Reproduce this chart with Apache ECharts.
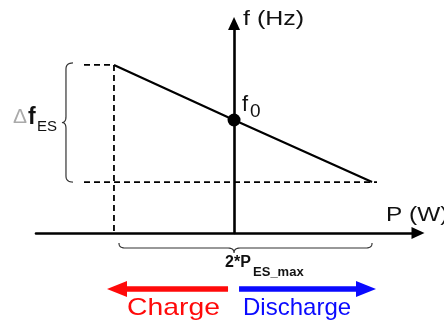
<!DOCTYPE html>
<html><head><meta charset="utf-8">
<script src="https://cdn.jsdelivr.net/npm/echarts@6/dist/echarts.min.js"></script>
<style>html,body{margin:0;padding:0;background:#fff}#c{width:444px;height:325px}</style>
</head><body><div id="c"></div>
<script>
// ---- Data (P normalised to discharge limit, f normalised to f0) ----
const droopP = [-0.87, 0, 1.0];
const droopF = [1.487, 1.0, 0.451];
const f0P = [0];
const f0F = [1.0];
const guideTopP = [-1.087, -0.87, -0.87];
const guideTopF = [1.487, 1.487, 0];
const guideBottomP = [-1.087, 1.036];
const guideBottomF = [0.451, 0.451];
const xRange = [-1.435, 1.333];
const yRange = [0, 1.854];
const axisTitles = ['P (W)', 'f (Hz)'];
const deltaLabel = ['\u0394', 'f', 'ES'];
const f0Label = ['f', '0'];
const spanLabel = ['2*P', 'ES_max'];
const directionLabels = ['Charge', 'Discharge'];

const zip = (a, b) => a.map((v, i) => [v, b[i]]);
const FONT = '"Liberation Sans", Arial, sans-serif';

const chart = echarts.init(document.getElementById('c'), null, {renderer: 'canvas'});
const axisCommon = {
  type: 'value', axisTick: {show: false}, axisLabel: {show: false}, splitLine: {show: false},
  axisLine: {show: true, onZero: true, symbol: ['none', 'triangle'], symbolSize: [12, 13],
    lineStyle: {color: '#000', width: 2.6}}
};
chart.setOption({
  animation: false,
  grid: {left: 36, right: 26, top: 23.5, bottom: 92},
  xAxis: Object.assign({}, axisCommon, {min: xRange[0], max: xRange[1]}),
  yAxis: Object.assign({}, axisCommon, {min: yRange[0], max: yRange[1]}),
  series: [
    {type: 'line', data: zip(guideTopP, guideTopF), symbol: 'none', silent: true,
      lineStyle: {color: '#000', width: 1.8, type: [6, 4]}},
    {type: 'line', data: zip(guideBottomP, guideBottomF), symbol: 'none', silent: true,
      lineStyle: {color: '#000', width: 1.8, type: [6, 4]}},
    {type: 'line', data: zip(droopP, droopF), symbol: 'none', silent: true,
      lineStyle: {color: '#000', width: 2.2}},
    {type: 'scatter', data: zip(f0P, f0F), symbolSize: 13, silent: true,
      itemStyle: {color: '#000', opacity: 1}}
  ]
});

const px = (p, f) => chart.convertToPixel({gridIndex: 0}, [p, f]);
const O = px(0, 0);
const F0 = px(f0P[0], f0F[0]);
const TOP = px(droopP[0], droopF[0]);
const BOT = px(droopP[2], droopF[2]);
const xEnd = px(xRange[1], 0);
const yEnd = px(0, yRange[1]);

// sample a chain of segments: 'L' lines and 'Q' quadratic curves into polyline points
function sample(start, segs) {
  const pts = [start];
  let cur = start;
  segs.forEach(s => {
    if (s.length === 1) { pts.push(s[0]); cur = s[0]; }
    else {
      const c = s[0], e = s[1];
      for (let i = 1; i <= 8; i++) {
        const t = i / 8, u = 1 - t;
        pts.push([u*u*cur[0] + 2*u*t*c[0] + t*t*e[0], u*u*cur[1] + 2*u*t*c[1] + t*t*e[1]]);
      }
      cur = e;
    }
  });
  return pts;
}
function vBrace(x, y1, y2, e, t) {
  const ym = (y1 + y2) / 2, r = 6;
  return sample([x+e, y1], [
    [[x, y1], [x, y1+r]], [[x, ym-r]], [[x, ym], [x-t, ym]],
    [[x, ym], [x, ym+r]], [[x, y2-r]], [[x, y2], [x+e, y2]]]);
}
function hBrace(y, x1, x2, xm, e, t) {
  const r = 6;
  return sample([x1, y-e], [
    [[x1, y], [x1+r, y]], [[xm-r, y]], [[xm, y], [xm, y+t]],
    [[xm, y], [xm+r, y]], [[x2-r, y]], [[x2, y], [x2, y-e]]]);
}
function txt(text, x, y, size, color, opts) {
  opts = opts || {};
  return {type: 'text', x: x, y: y, scaleX: opts.sx || 1, silent: true,
    style: {text: text, fill: color, font: (opts.bold ? 'bold ' : '') + size + 'px ' + FONT,
      align: 'left', verticalAlign: 'middle', textAlign: 'left', textVerticalAlign: 'middle'}};
}
function arrow(tipX, tailX, y, dir) {
  const hl = 20, hh = 8, sh = 2.7, b = tipX - dir * hl;
  return {type: 'polygon', silent: true,
    shape: {points: [[tipX, y], [b, y - hh], [b, y - sh], [tailX, y - sh], [tailX, y + sh], [b, y + sh], [b, y + hh]]},
    style: {fill: dir < 0 ? '#ff0a0a' : '#0a0aff'}};
}
const braceStyle = {stroke: '#333', lineWidth: 1.2, fill: null};
const arrowY = O[1] + 56;
const textY = O[1] + 75;

chart.setOption({graphic: [
  {type: 'polyline', silent: true, shape: {points: vBrace(TOP[0] - 48, TOP[1] - 2, BOT[1], 7, 4)}, style: braceStyle},
  {type: 'polyline', silent: true, shape: {points: hBrace(O[1] + 15, TOP[0] + 5, BOT[0], O[0], 5, 5)}, style: braceStyle},
  txt(axisTitles[1], yEnd[0] + 9, yEnd[1] - 4.5, 20, '#111', {sx: 1.25}),
  txt(axisTitles[0], xEnd[0] - 32, O[1] - 18, 20, '#111', {sx: 1.22}),
  txt(deltaLabel[0], 13, (TOP[1] + BOT[1]) / 2 - 6, 21, '#aaa'),
  txt(deltaLabel[1], 28, (TOP[1] + BOT[1]) / 2 - 6, 23, '#111', {bold: true}),
  txt(deltaLabel[2], 37, (TOP[1] + BOT[1]) / 2 + 3, 15, '#111'),
  txt(f0Label[0], F0[0] + 8, F0[1] - 15, 22, '#111'),
  txt(f0Label[1], F0[0] + 16, F0[1] - 8, 19, '#111'),
  txt(spanLabel[0], O[0] - 9, O[1] + 29.5, 16, '#111', {bold: true}),
  txt(spanLabel[1], O[0] + 19, O[1] + 39.5, 13, '#111', {bold: true}),
  arrow(107, O[0] - 6, arrowY, -1),
  arrow(376, O[0] + 5, arrowY, 1),
  txt(directionLabels[0], 127, textY, 24, '#ff0a0a', {sx: 1.18}),
  txt(directionLabels[1], O[0] + 9, textY, 24, '#0a0aff')
]});
</script></body></html>
